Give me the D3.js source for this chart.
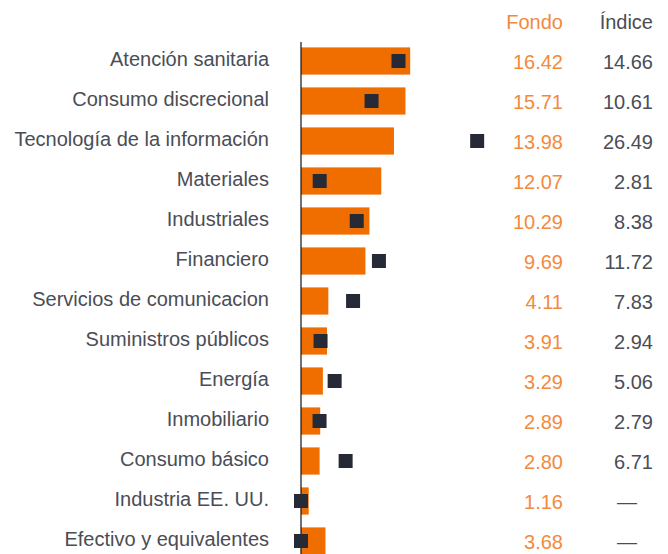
<!DOCTYPE html>
<html>
<head>
<meta charset="utf-8">
<script src="https://cdn.jsdelivr.net/npm/d3@7"></script>
<style>
  body { margin: 0; background: #fff; }
  svg text { font-family: "Liberation Sans", Arial, sans-serif; }
</style>
</head>
<body>
<div id="chart"></div>
<script>
const categories = [
  "Atención sanitaria", "Consumo discrecional", "Tecnología de la información",
  "Materiales", "Industriales", "Financiero", "Servicios de comunicacion",
  "Suministros públicos", "Energía", "Inmobiliario", "Consumo básico",
  "Industria EE. UU.", "Efectivo y equivalentes"
];
const fondoValues = [16.42, 15.71, 13.98, 12.07, 10.29, 9.69, 4.11, 3.91, 3.29, 2.89, 2.80, 1.16, 3.68];
const indiceValues = [14.66, 10.61, 26.49, 2.81, 8.38, 11.72, 7.83, 2.94, 5.06, 2.79, 6.71, null, null];
const headers = ["Fondo", "Índice"];

const width = 668, height = 554;
const orange = "#f06e00", orangeText = "#f28a3e", dark = "#262a36", gray = "#4a4d55";
const fs = 20;

const svg = d3.select("#chart").append("svg")
  .attr("width", width).attr("height", height);

const y = d3.scaleBand()
  .domain(categories)
  .range([41, 561])
  .paddingInner(0.32)
  .paddingOuter(0.16);

const x = d3.scaleLinear().domain([0, 30]).range([301, 500.5]);

const rows = categories.map((c, i) => ({ cat: c, fondo: fondoValues[i], indice: indiceValues[i] }));
const cy = d => y(d.cat) + y.bandwidth() / 2;

svg.selectAll(".bar")
  .data(rows)
  .join("rect")
  .attr("class", "bar")
  .attr("x", x(0))
  .attr("y", d => y(d.cat))
  .attr("width", d => x(d.fondo) - x(0))
  .attr("height", y.bandwidth())
  .attr("fill", orange);

svg.append("line")
  .attr("x1", x(0)).attr("x2", x(0))
  .attr("y1", 42).attr("y2", height)
  .attr("stroke", "#111").attr("stroke-width", 1.2);

const sq = 14;
svg.selectAll(".marker")
  .data(rows)
  .join("rect")
  .attr("class", "marker")
  .attr("x", d => x(d.indice ?? 0) - sq / 2)
  .attr("y", d => cy(d) - sq / 2)
  .attr("width", sq).attr("height", sq)
  .attr("fill", dark);

svg.selectAll(".label")
  .data(rows)
  .join("text")
  .attr("class", "label")
  .attr("x", 269)
  .attr("y", d => cy(d) - 2)
  .attr("dy", "0.35em")
  .attr("text-anchor", "end")
  .attr("font-size", fs)
  .attr("fill", gray)
  .text(d => d.cat);

svg.selectAll(".fondo")
  .data(rows)
  .join("text")
  .attr("class", "fondo")
  .attr("x", 563)
  .attr("y", d => cy(d) + 1)
  .attr("dy", "0.35em")
  .attr("text-anchor", "end")
  .attr("font-size", fs)
  .attr("fill", orangeText)
  .text(d => d.fondo.toFixed(2));

svg.selectAll(".indice")
  .data(rows)
  .join("text")
  .attr("class", "indice")
  .attr("x", d => d.indice == null ? 627 : 653)
  .attr("y", d => cy(d) + 1)
  .attr("dy", "0.35em")
  .attr("text-anchor", d => d.indice == null ? "middle" : "end")
  .attr("font-size", fs)
  .attr("fill", gray)
  .text(d => d.indice == null ? "—" : d.indice.toFixed(2));

svg.append("text")
  .attr("x", 563).attr("y", 22).attr("dy", "0.35em")
  .attr("text-anchor", "end").attr("font-size", fs)
  .attr("fill", orangeText).text(headers[0]);

svg.append("text")
  .attr("x", 653).attr("y", 22).attr("dy", "0.35em")
  .attr("text-anchor", "end").attr("font-size", fs)
  .attr("fill", gray).text(headers[1]);
</script>
</body>
</html>
